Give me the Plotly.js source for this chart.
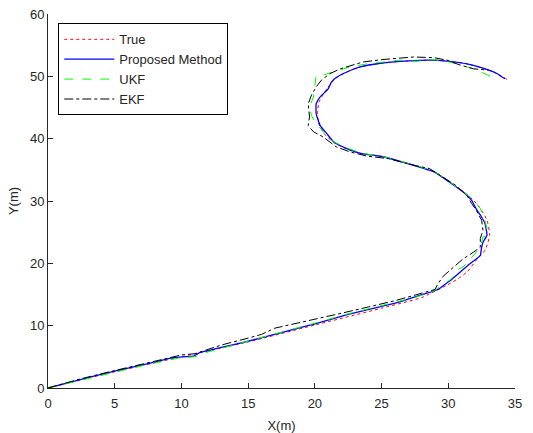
<!DOCTYPE html>
<html><head><meta charset="utf-8">
<script src="https://cdn.plot.ly/plotly-3.0.1.min.js"></script>
<style>html,body{margin:0;padding:0;background:#fff}#chart{width:533px;height:433px}</style>
</head><body><div id="chart"></div>
<script>
// True trajectory
const trueX = [0, 5, 10, 15, 20, 25, 28, 28.6, 29.9, 30.7, 31.4, 32.1, 32.75, 33.1, 32.9, 32.5, 31.9, 31.2, 30.1, 28.9, 27.6, 25.1, 23.3, 22.3, 21.4, 20.7, 20.3, 20.2, 20.3, 20.6, 20.9, 21.3, 21.8, 22.5, 23.4, 24.9, 26.4, 28.4, 29.0, 30.1, 31.4, 32.6, 33.6, 34.4];
const trueY = [0, 2.6, 5.0, 7.4, 10.1, 12.8, 14.5, 15.1, 16.5, 17.5, 18.6, 20.5, 22.1, 24.5, 26.9, 28.5, 30.1, 31.4, 33.0, 34.7, 35.6, 37.1, 37.7, 38.4, 39.4, 40.8, 42.3, 44.0, 45.8, 47.0, 48.0, 49.1, 50.0, 50.8, 51.5, 52.1, 52.4, 52.6, 52.6, 52.4, 52.0, 51.3, 50.5, 49.5];
// Proposed method
const propX = [0, 2.5, 5, 7.5, 9.5, 10.9, 11.3, 13, 15, 17.5, 20, 22.5, 25, 26.5, 27.9, 28.7, 29.3, 29.8, 30.3, 30.9, 31.6, 32.1, 32.4, 32.5, 32.6, 32.9, 32.75, 32.5, 32.1, 31.75, 31.25, 30.1, 28.9, 27.6, 25.1, 23.5, 22.4, 21.4, 20.9, 20.4, 20.1, 20.1, 20.4, 21.0, 21.25, 21.6, 22.4, 23.4, 24.9, 26.4, 28.4, 28.9, 30.1, 31.4, 32.6, 33.6, 34.25];
const propY = [0, 1.4, 2.7, 3.9, 4.9, 5.1, 5.6, 6.5, 7.5, 8.9, 10.3, 11.8, 13.1, 13.9, 14.9, 15.4, 15.9, 16.7, 17.5, 18.6, 19.9, 20.7, 21.3, 22.6, 23.4, 24.5, 26.4, 27.4, 28.7, 30.1, 31.2, 33.0, 34.7, 35.6, 37.1, 37.6, 38.4, 39.5, 40.8, 42.1, 44.0, 45.6, 46.7, 48.0, 49.1, 49.8, 50.7, 51.5, 52.1, 52.4, 52.6, 52.6, 52.4, 52.0, 51.3, 50.5, 49.6];
// UKF
const ukfX = [0, 2.5, 5, 7.5, 10, 11, 11.5, 15, 17.5, 20, 22.5, 25, 27.6, 28.9, 29.2, 29.9, 30.3, 30.6, 31.1, 31.6, 32.4, 32.6, 33.0, 32.75, 32.4, 31.9, 31.2, 30.1, 28.9, 27.6, 25.1, 23.5, 22.4, 21.4, 20.75, 20.0, 19.75, 19.6, 19.9, 20.0, 20.1, 20.6, 21.4, 22.6, 23.9, 26.4, 27.6, 28.9, 30.1, 31.9, 33.6];
const ukfY = [0, 1.3, 2.6, 3.8, 4.9, 5.0, 5.5, 7.5, 8.9, 10.4, 11.9, 13.2, 14.6, 15.5, 16.0, 17.0, 17.6, 18.9, 19.4, 20.5, 22.6, 24.2, 24.5, 26.9, 28.8, 30.2, 31.3, 33.1, 34.8, 35.7, 37.1, 37.7, 38.5, 39.5, 40.8, 42.7, 43.7, 45.1, 46.7, 48.3, 50.2, 50.2, 50.7, 51.5, 52.0, 52.6, 52.4, 52.7, 52.3, 51.2, 49.6];
// EKF
const ekfX = [0, 2.5, 5, 7.5, 10, 11, 13, 15, 16, 17, 20, 22, 24, 26, 28, 29, 29.2, 29.6, 30.4, 31.1, 31.9, 32.4, 32.4, 32.6, 32.5, 32.1, 31.75, 31.4, 30.5, 28.6, 27.5, 25.5, 23.9, 22.6, 21.6, 20.6, 19.9, 19.5, 19.6, 19.5, 19.75, 20.1, 20.5, 21.1, 21.9, 23.6, 25.1, 27.4, 28.9, 29.9, 30.9, 31.9, 33.0];
const ekfY = [0, 1.5, 2.8, 4.1, 5.3, 5.5, 6.9, 8.0, 8.6, 9.6, 11.0, 12.0, 13.0, 14.0, 15.2, 15.8, 16.6, 17.9, 19.4, 20.7, 21.8, 22.6, 24.0, 25.3, 26.9, 28.5, 29.6, 30.9, 32.6, 35.2, 35.7, 36.8, 37.2, 37.9, 38.7, 40.3, 41.1, 42.1, 43.5, 45.6, 47.0, 48.3, 49.4, 50.4, 51.2, 52.3, 52.7, 53.1, 53.0, 52.6, 51.8, 51.2, 51.0];

const names = ['True', 'Proposed Method', 'UKF', 'EKF'];
const axColor = '#262626';
const traces = [
  {x: trueX, y: trueY, name: names[0], mode: 'lines', line: {color: '#ff0000', width: 1, dash: 'dot', shape: 'spline', smoothing: 0.6}},
  {x: propX, y: propY, name: names[1], mode: 'lines', line: {color: '#0000ff', width: 1.3, shape: 'spline', smoothing: 0.4}},
  {x: ukfX, y: ukfY, name: names[2], mode: 'lines', line: {color: '#00ff00', width: 1, dash: 'dash'}},
  {x: ekfX, y: ekfY, name: names[3], mode: 'lines', line: {color: '#000000', width: 1, dash: 'dashdot'}}
];
const layout = {
  width: 533, height: 433,
  margin: {l: 48, r: 18, t: 14, b: 45},
  paper_bgcolor: '#fff', plot_bgcolor: '#fff',
  font: {family: 'Liberation Sans, Arial, sans-serif', size: 13, color: axColor},
  showlegend: true,
  legend: {x: 0.022, y: 0.975, xanchor: 'left', yanchor: 'top', bgcolor: '#fff', bordercolor: '#000', borderwidth: 1, itemwidth: 50, font: {size: 13, color: axColor}, tracegroupgap: 0},
  xaxis: {range: [0, 35], dtick: 5, ticks: 'inside', ticklen: 5, tickcolor: axColor, showline: true, linecolor: axColor, linewidth: 1, showgrid: false, zeroline: false, mirror: false, ticklabelstandoff: 3, title: {text: 'X(m)', font: {size: 13, color: axColor}, standoff: 11}, tickfont: {size: 13, color: axColor}},
  yaxis: {range: [0, 60], dtick: 10, ticks: 'inside', ticklen: 5, tickcolor: axColor, showline: true, linecolor: axColor, linewidth: 1, showgrid: false, zeroline: false, mirror: false, title: {text: 'Y(m)', font: {size: 13, color: axColor}, standoff: 8}, tickfont: {size: 13, color: axColor}}
};
Plotly.newPlot('chart', traces, layout, {displayModeBar: false, staticPlot: true});
</script></body></html>
